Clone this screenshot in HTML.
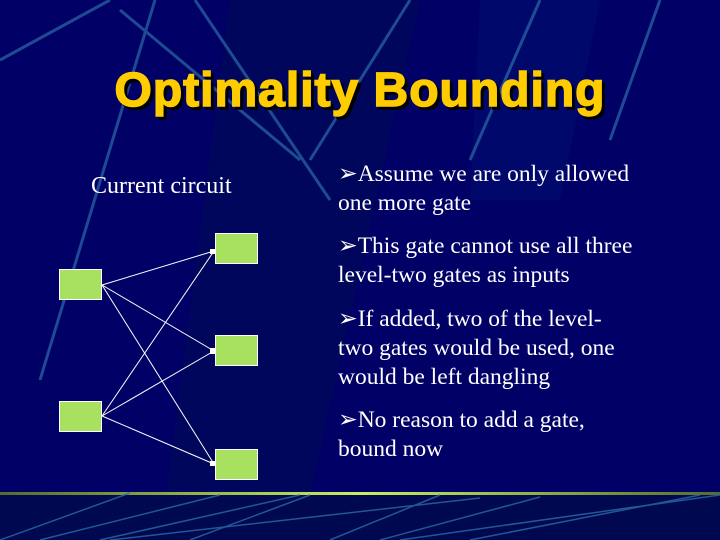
<!DOCTYPE html>
<html><head><style>
body{margin:0;}
#s{position:relative;width:720px;height:540px;background:#000066;overflow:hidden;font-family:"Liberation Serif",serif;}
.t{position:absolute;color:#fff;font-size:23.5px;white-space:nowrap;line-height:27px;}
</style></head><body><div id="s">
<svg width="720" height="540" style="position:absolute;left:0;top:0">
<defs><linearGradient id="g" x1="0" y1="0" x2="1" y2="0"><stop offset="0" stop-color="#556b2f"/><stop offset="0.5" stop-color="#c8f060"/><stop offset="1" stop-color="#556b2f"/></linearGradient></defs>
<polygon points="230,0 420,0 300,540 160,540" fill="#000a55" opacity="0.6"/>
<polygon points="480,0 600,0 560,200 470,200" fill="#001070" opacity="0.5"/>
<g stroke="#2c6aa8" stroke-width="3" opacity="0.7" fill="none">
<line x1="155" y1="0" x2="40" y2="380"/>
<line x1="195" y1="0" x2="330" y2="200"/>
<line x1="120" y1="10" x2="300" y2="160"/>
<line x1="540" y1="0" x2="470" y2="160"/>
<line x1="660" y1="0" x2="610" y2="140"/>
<line x1="410" y1="0" x2="310" y2="160"/>
<line x1="0" y1="60" x2="110" y2="0"/>
</g>
<rect x="0" y="495" width="720" height="45" fill="#000850"/>
<rect x="0" y="492" width="720" height="3" fill="url(#g)"/>
<g stroke="#2c6aa8" stroke-width="1.5" opacity="0.8">
<line x1="0" y1="540" x2="130" y2="493"/>
<line x1="40" y1="540" x2="220" y2="495"/>
<line x1="100" y1="540" x2="300" y2="495"/>
<line x1="190" y1="540" x2="310" y2="495"/>
<line x1="110" y1="540" x2="480" y2="498"/>
<line x1="330" y1="540" x2="440" y2="495"/>
<line x1="380" y1="540" x2="540" y2="497"/>
<line x1="400" y1="540" x2="720" y2="495"/>
<line x1="470" y1="540" x2="700" y2="495"/>
</g>
<g fill="#a8e060" stroke="#fff" stroke-width="1">
<rect x="59.5" y="269.5" width="42" height="30"/>
<rect x="59.5" y="401.5" width="42" height="30"/>
<rect x="215.5" y="233.5" width="42" height="30"/>
<rect x="215.5" y="335.5" width="42" height="30"/>
<rect x="215.5" y="449.5" width="42" height="30"/>
</g>
<g stroke="#fff" stroke-width="1">
<line x1="102" y1="285" x2="214" y2="251"/>
<line x1="102" y1="285" x2="214" y2="351"/>
<line x1="102" y1="285" x2="214" y2="464"/>
<line x1="102" y1="416" x2="214" y2="251"/>
<line x1="102" y1="416" x2="214" y2="351"/>
<line x1="102" y1="416" x2="214" y2="464"/>
</g>
<g fill="#fff">
<rect x="210" y="249" width="5" height="5"/><rect x="210" y="348" width="5" height="6"/><rect x="210" y="461" width="5" height="5"/>
</g>
<text x="363" y="109" text-anchor="middle" font-family="Liberation Sans,sans-serif" font-weight="bold" font-size="48" letter-spacing="1" fill="#000" stroke="#000" stroke-width="1.5">Optimality Bounding</text>
<text x="360" y="106" text-anchor="middle" font-family="Liberation Sans,sans-serif" font-weight="bold" font-size="48" letter-spacing="1" fill="#ffcc00" stroke="#ffcc00" stroke-width="1.5">Optimality Bounding</text>
</svg>
<div class="t" style="left:91px;top:173px;font-size:24px">Current circuit</div>
<div class="t" style="left:338px;top:161px">➢Assume we are only allowed</div>
<div class="t" style="left:338px;top:190px">one more gate</div>
<div class="t" style="left:338px;top:233px">➢This gate cannot use all three</div>
<div class="t" style="left:338px;top:262px">level-two gates as inputs</div>
<div class="t" style="left:338px;top:306px">➢If added, two of the level-</div>
<div class="t" style="left:338px;top:335px">two gates would be used, one</div>
<div class="t" style="left:338px;top:364px">would be left dangling</div>
<div class="t" style="left:338px;top:407px">➢No reason to add a gate,</div>
<div class="t" style="left:338px;top:436px">bound now</div>
</div></body></html>
